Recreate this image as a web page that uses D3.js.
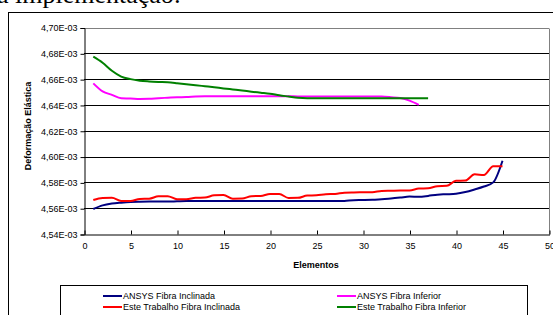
<!DOCTYPE html>
<html>
<head>
<meta charset="utf-8">
<script src="https://cdn.jsdelivr.net/npm/d3@7"></script>
<style>
  body { margin: 0; background: #fff; }
  svg { display: block; }
  text { font-family: "Liberation Sans", Arial, sans-serif; }
</style>
</head>
<body>
<script>
// values in units of 1e-3
const ansysInclinada = [
  4.5594, 4.5622, 4.5636, 4.5643, 4.5648, 4.5650, 4.5651, 4.5651, 4.5651, 4.5653,
  4.5655, 4.5655, 4.5655, 4.5655, 4.5655, 4.5655, 4.5655, 4.5655, 4.5655, 4.5655,
  4.5655, 4.5655, 4.5655, 4.5655, 4.5655, 4.5655, 4.5655, 4.5656, 4.5662, 4.5663,
  4.5665, 4.5670, 4.5675, 4.5682, 4.5690, 4.5688, 4.5695, 4.5705, 4.5708, 4.5712,
  4.5725, 4.5745, 4.5768, 4.5800, 4.5968
];
const esteInclinada = [
  4.5663, 4.5679, 4.5680, 4.5656, 4.5655, 4.5672, 4.5673, 4.5692, 4.5693, 4.5670,
  4.5669, 4.5680, 4.5682, 4.5700, 4.5702, 4.5674, 4.5675, 4.5693, 4.5695, 4.5710,
  4.5710, 4.5679, 4.5680, 4.5698, 4.5700, 4.5708, 4.5710, 4.5720, 4.5722, 4.5723,
  4.5724, 4.5733, 4.5735, 4.5737, 4.5738, 4.5752, 4.5755, 4.5770, 4.5773, 4.5812,
  4.5814, 4.5862, 4.5858, 4.5925, 4.5924
];
const ansysInferior = [
  4.6567, 4.6505, 4.6478, 4.6452, 4.6450, 4.6446, 4.6447, 4.6452, 4.6456, 4.6460,
  4.6461, 4.6465, 4.6467, 4.6467, 4.6467, 4.6467, 4.6467, 4.6467, 4.6467, 4.6467,
  4.6467, 4.6467, 4.6466, 4.6466, 4.6466, 4.6466, 4.6466, 4.6466, 4.6466, 4.6466,
  4.6466, 4.6465, 4.6460, 4.6453, 4.6433, 4.6400
];
const esteInferior = [
  4.6774, 4.6727, 4.6665, 4.6620, 4.6600, 4.6588, 4.6582, 4.6578, 4.6575, 4.6568,
  4.6560, 4.6553, 4.6545, 4.6537, 4.6528, 4.6520, 4.6512, 4.6503, 4.6495, 4.6487,
  4.6475, 4.6465, 4.6455, 4.6452, 4.6452, 4.6452, 4.6452, 4.6452, 4.6452, 4.6452,
  4.6452, 4.6452, 4.6452, 4.6452, 4.6452, 4.6452, 4.6452
];

const series = [
  { name: "ANSYS Fibra Inclinada", color: "#000080", values: ansysInclinada },
  { name: "ANSYS Fibra Inferior", color: "#ff00ff", values: ansysInferior },
  { name: "Este Trabalho Fibra Inclinada", color: "#ff0000", values: esteInclinada },
  { name: "Este Trabalho Fibra Inferior", color: "#008000", values: esteInferior }
];
const xTicks = d3.range(0, 51, 5);
const yTicks = [4.54, 4.56, 4.58, 4.60, 4.62, 4.64, 4.66, 4.68, 4.70];

const W = 553, H = 315;
const svg = d3.select("body").append("svg").attr("width", W).attr("height", H);

// caption cut off at the top of the page
svg.append("text")
    .attr("x", -3).attr("y", 3)
    .style("font-family", "'Liberation Serif', 'Times New Roman', serif")
    .style("font-size", "26px")
    .text("a implementação:");

// chart frame
svg.append("rect")
    .attr("x", 8.5).attr("y", 12.5)
    .attr("width", 600).attr("height", 400)
    .attr("fill", "#fff").attr("stroke", "#000");

const plotLeft = 84, plotRight = 549, plotTop = 27.5, plotBottom = 234;
const x = d3.scaleLinear().domain([0, 50]).range([plotLeft, plotRight]);
const y = d3.scaleLinear().domain([4.54, 4.70]).range([plotBottom, plotTop]);

const g = svg.append("g");

// gridlines
g.selectAll(".grid").data(yTicks.slice(1))
  .enter().append("line")
    .attr("x1", plotLeft).attr("x2", plotRight)
    .attr("y1", d => Math.round(y(d)) + 0.5).attr("y2", d => Math.round(y(d)) + 0.5)
    .attr("stroke", d => d === 4.70 ? "#808080" : "#000");

// plot border right
g.append("line")
    .attr("x1", plotRight + 0.5).attr("x2", plotRight + 0.5)
    .attr("y1", Math.round(plotTop) + 0.5).attr("y2", Math.round(plotBottom) + 0.5)
    .attr("stroke", "#808080");

const fmt = d => d.toFixed(2).replace(".", ",") + "E-03";

const yAxis = g.append("g")
    .attr("transform", `translate(${plotLeft + 0.5},0.5)`)
    .call(d3.axisLeft(y).tickValues(yTicks).tickFormat(fmt).tickSize(4).tickPadding(3));
yAxis.selectAll("text").style("font-size", "9px").attr("fill", "#000");

const xAxis = g.append("g")
    .attr("transform", `translate(0.5,${Math.round(plotBottom) + 0.5})`)
    .call(d3.axisBottom(x).tickValues(xTicks).tickSizeInner(-4).tickSizeOuter(0).tickPadding(8));
xAxis.selectAll("text").style("font-size", "9px").attr("fill", "#000");
xAxis.selectAll("line, path").attr("stroke", "#000");
yAxis.selectAll("line, path").attr("stroke", "#000");

// series lines
const line = d3.line()
    .x((d, i) => x(i + 1))
    .y(d => y(d))
    .curve(d3.curveMonotoneX);

g.selectAll(".series").data(series)
  .enter().append("path")
    .attr("fill", "none")
    .attr("stroke", d => d.color)
    .attr("stroke-width", 2)
    .attr("d", d => line(d.values));

// axis titles
svg.append("text")
    .attr("x", 316).attr("y", 268)
    .attr("text-anchor", "middle")
    .style("font-size", "9px").style("font-weight", "bold")
    .text("Elementos");

svg.append("text")
    .attr("transform", "translate(31,126) rotate(-90)")
    .attr("text-anchor", "middle")
    .style("font-size", "9px").style("font-weight", "bold")
    .text("Deformação Elástica");

// legend
svg.append("rect")
    .attr("x", 60.5).attr("y", 285.5)
    .attr("width", 467).attr("height", 60)
    .attr("fill", "#fff").attr("stroke", "#000");

const legend = svg.selectAll(".legend").data(series)
  .enter().append("g")
    .attr("transform", (d, i) => `translate(${i % 2 ? 337 : 103},${i < 2 ? 296 : 307})`);

legend.append("line")
    .attr("x1", 0).attr("x2", 19)
    .attr("stroke", d => d.color).attr("stroke-width", 2);

legend.append("text")
    .attr("x", 20).attr("dy", "0.35em")
    .style("font-size", "9px")
    .text(d => d.name);
</script>
</body>
</html>
